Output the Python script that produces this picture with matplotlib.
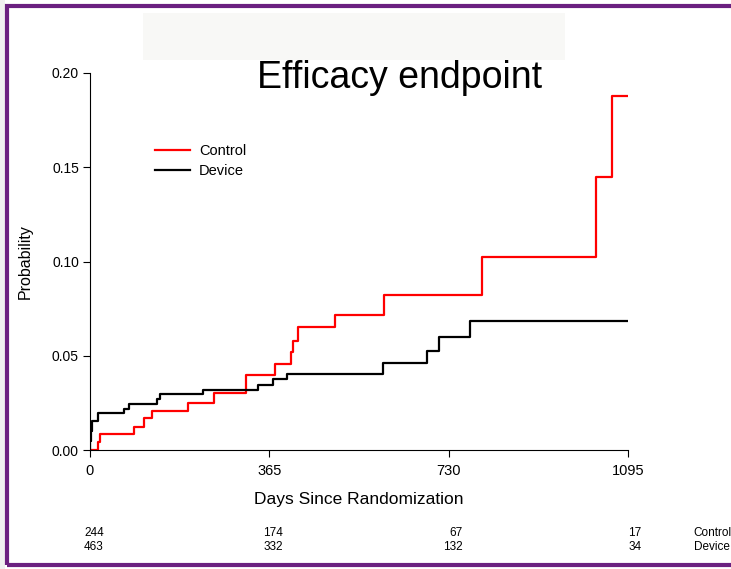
import matplotlib
matplotlib.use('Agg')
import matplotlib.pyplot as plt
from matplotlib.patches import Rectangle

plt.rcParams['font.family'] = ['Liberation Sans', 'DejaVu Sans']

# 누적 사건 확률 (step, post)
ctrl_days = [0, 16, 20, 90, 110, 126, 200, 252, 318, 377, 409, 413, 423, 499, 598, 798, 1030, 1062, 1095]
ctrl_prob = [0, 0.004, 0.0085, 0.0122, 0.017, 0.0208, 0.025, 0.030, 0.040, 0.0456, 0.052, 0.058, 0.065,
             0.0716, 0.0822, 0.1024, 0.145, 0.188, 0.188]

dev_days = [0, 1, 2, 4, 16, 70, 80, 137, 143, 231, 342, 373, 401, 596, 686, 710, 774, 1095]
dev_prob = [0, 0.005, 0.010, 0.0155, 0.0196, 0.0216, 0.0244, 0.0269, 0.0295, 0.0317, 0.0345, 0.0377,
            0.0403, 0.0463, 0.0527, 0.060, 0.0684, 0.0684]

# number at risk
risk_days = [0, 365, 730, 1095]
risk_ctrl = [244, 174, 67, 17]
risk_dev = [463, 332, 132, 34]

fig = plt.figure(figsize=(7.31, 5.69), dpi=100)
ax = fig.add_axes([90/731, 1-450/569, 538/731, 377/569])

ax.step(ctrl_days, ctrl_prob, where='post', color='#ff0000', lw=1.6, label='Control')
ax.step(dev_days, dev_prob, where='post', color='black', lw=1.6, label='Device')

ax.set_xlim(0, 1095)
ax.set_ylim(0, 0.2)
ax.set_xticks(risk_days)
ax.set_yticks([0, 0.05, 0.10, 0.15, 0.20])
ax.set_yticklabels(['0.00', '0.05', '0.10', '0.15', '0.20'])
ax.spines['top'].set_visible(False)
ax.spines['right'].set_visible(False)
ax.tick_params(axis='y', labelsize=10, length=5, pad=3)
ax.tick_params(axis='x', labelsize=10.5, length=5, pad=5)
ax.set_xlabel('Days Since Randomization', fontsize=12.5, labelpad=10)
ax.set_ylabel('Probability', fontsize=11.5, labelpad=14)

ax.legend(loc='upper left', bbox_to_anchor=(0.121, 0.812), frameon=False, fontsize=10.5,
          handlelength=2.4, handletextpad=0.6, labelspacing=0.45, borderpad=0, borderaxespad=0)

for d, c, v in zip(risk_days, risk_ctrl, risk_dev):
    ax.text(d + 28, -0.044, str(c), ha='right', va='center', fontsize=8.5, clip_on=False)
    ax.text(d + 28, -0.0515, str(v), ha='right', va='center', fontsize=8.5, clip_on=False)
ax.text(1229, -0.044, 'Control', ha='left', va='center', fontsize=8.5, clip_on=False)
ax.text(1229, -0.0515, 'Device', ha='left', va='center', fontsize=8.5, clip_on=False)

# 제목 뒤 회색 박스, 보라색 테두리
fig.patches.append(Rectangle((0, 0), 5/731, 1, transform=fig.transFigure,
                             facecolor='#f0f0f0', edgecolor='none', zorder=0))
fig.patches.append(Rectangle((143/731, 1-60/569), 422/731, 47/569, transform=fig.transFigure,
                             facecolor='#f8f8f6', edgecolor='none', zorder=0))
fig.patches.append(Rectangle((7/731, 1-565/569), 740/731, 559/569, transform=fig.transFigure,
                             facecolor='none', edgecolor='#6b2080', lw=3, zorder=5))
fig.text(400/731, 1-78/569, 'Efficacy endpoint', ha='center', va='center', fontsize=27)

fig.savefig('out.png', dpi=100)
